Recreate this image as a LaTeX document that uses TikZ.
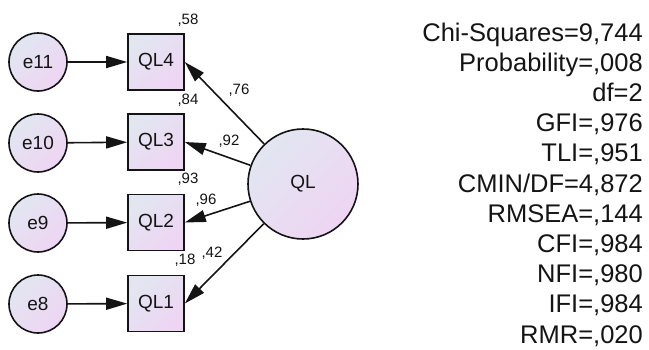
\documentclass[tikz,border=0pt]{standalone}
\usepackage{fontspec}
\setmainfont{Liberation Sans}
\usetikzlibrary{arrows.meta}
\definecolor{SemBlue}{HTML}{E2E6F1}
\definecolor{SemPink}{HTML}{EED5F3}
\definecolor{InkGray}{HTML}{141414}

\begin{document}
\begin{tikzpicture}[
      x=1pt, y=-1pt,
      semfill/.style={top color=SemBlue, bottom color=SemPink, shading angle=45},
      latent/.style={circle, draw=InkGray, line width=1.6pt, semfill, inner sep=0pt, text=InkGray, font=\fontsize{19}{19}\selectfont},
      errvar/.style={latent, minimum size=58pt},
      obsvar/.style={rectangle, draw=InkGray, line width=1.6pt, semfill, inner sep=0pt, minimum size=56pt, text=InkGray, font=\fontsize{19}{19}\selectfont},
      path/.style={-{Triangle[length=21pt,width=12pt]}, draw=InkGray, line width=1.6pt},
      coef/.style={inner sep=0pt, text=InkGray, font=\fontsize{15}{15}\selectfont},
      fitline/.style={anchor=base east, inner sep=0pt, text=InkGray, font=\fontsize{25.5}{25.5}\selectfont}
  ]
    \useasboundingbox (0,0) rectangle (649,349);
    % error terms
    \node[errvar](e11) at (38,62){e11};
    \node[errvar](e10) at (38,143){e10};
    \node[errvar](e9) at (38,223){e9};
    \node[errvar](e8) at (38,304){e8};
    % observed items
    \node[obsvar](QL4) at (156,62){QL4};
    \node[obsvar](QL3) at (156,142){QL3};
    \node[obsvar](QL2) at (156,222.5){QL2};
    \node[obsvar](QL1) at (156,303.5){QL1};
    % latent factor
    \node[latent, minimum size=110pt](QL) at (303,184){QL};
    \draw[path](e11)--(QL4); \draw[path](e10)--(QL3);
    \draw[path](e9)--(QL2); \draw[path](e8)--(QL1);
    \draw[path](QL)--(QL4.east); \draw[path](QL)--(QL3.east);
    \draw[path](QL)--(QL2.east); \draw[path](QL)--(QL1.east);
    % squared multiple correlations
    \node[coef](r4) at (188,20){,58};
    \node[coef](r3) at (188,100){,84};
    \node[coef](r2) at (188,179){,93};
    \node[coef](r1) at (185,260){,18};
    % loadings
    \node[coef](l4) at (239,90){,76};
    \node[coef](l3) at (229,141){,92};
    \node[coef](l2) at (206,200){,96};
    \node[coef](l1) at (212,253){,42};
    % fit indices
    \foreach \txt [count=\i from 0] in {{Chi-Squares=9,744},{Probability=,008},{df=2},{GFI=,976},{TLI=,951},{CMIN/DF=4,872},{RMSEA=,144},{CFI=,984},{NFI=,980},{IFI=,984},{RMR=,020}}
      \node[fitline](fit\i) at (643,41+30.2*\i){\txt};
  \end{tikzpicture}
\end{document}
